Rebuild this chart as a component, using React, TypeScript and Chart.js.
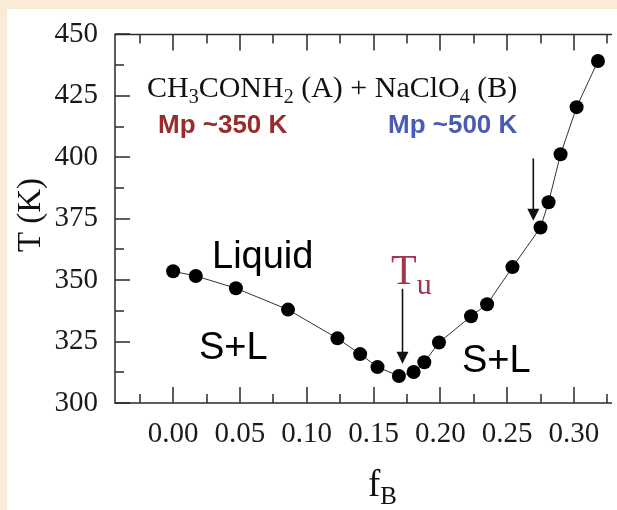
import React, { useEffect, useRef } from "react";
import { Chart, registerables } from "chart.js";

Chart.register(...registerables);

// ---- data ----
const fB = [0.0, 0.017, 0.047, 0.086, 0.123, 0.14, 0.153, 0.169, 0.18, 0.188, 0.199, 0.223, 0.235, 0.254, 0.275, 0.281, 0.29, 0.302, 0.318];
const T = [353.6, 351.7, 346.7, 338.0, 326.3, 319.9, 314.6, 311.0, 312.6, 316.6, 324.6, 335.3, 340.2, 355.3, 371.4, 381.7, 401.2, 420.4, 439.2];
const xTicks = [0, 0.05, 0.1, 0.15, 0.2, 0.25, 0.3];
const xMinorTicks = [-0.025, 0.025, 0.075, 0.125, 0.175, 0.225, 0.275, 0.325];
const yTicks = [300, 325, 350, 375, 400, 425, 450];
const yMinorTicks = [312.5, 337.5, 362.5, 387.5, 412.5, 437.5];
const X_MIN = -0.0435;
const X_MAX = 0.327;
// arrows: [x, fromT, toT]
const arrows = [
  [0.1717, 346.5, 316.0],
  [0.2696, 399.5, 374.2],
];

const SERIF = "'Liberation Serif', 'Times New Roman', serif";
const SANS = "'Liberation Sans', Arial, sans-serif";

type Part = [string, string, number];
function drawRich(ctx: CanvasRenderingContext2D, parts: Part[], x: number, y: number, color: string) {
  let cx = x;
  ctx.fillStyle = color;
  ctx.textBaseline = "alphabetic";
  ctx.textAlign = "left";
  for (const [t, f, dy] of parts) {
    ctx.font = f;
    ctx.fillText(t, cx, y + dy);
    cx += ctx.measureText(t).width;
  }
}

const framePlugin = {
  id: "frame",
  beforeDraw(chart: any) {
    const ctx = chart.ctx as CanvasRenderingContext2D;
    ctx.save();
    ctx.fillStyle = "#f9ebd8";
    ctx.fillRect(0, 0, chart.width, chart.height);
    ctx.fillStyle = "#ffffff";
    ctx.fillRect(7, 9, chart.width - 7, chart.height - 9);
    ctx.restore();
  },
  afterDraw(chart: any) {
    const ctx = chart.ctx as CanvasRenderingContext2D;
    const { left, right, top, bottom } = chart.chartArea;
    const xs = chart.scales.x;
    const ys = chart.scales.y;
    ctx.save();
    ctx.strokeStyle = "#2a2a2a";
    ctx.lineWidth = 1.5;
    ctx.beginPath();
    ctx.moveTo(right + 2, top);
    ctx.lineTo(left, top);
    ctx.lineTo(left, bottom);
    ctx.lineTo(right + 2, bottom);
    ctx.stroke();
    ctx.beginPath();
    for (const v of yTicks) {
      const p = Math.round(ys.getPixelForValue(v));
      ctx.moveTo(left, p);
      ctx.lineTo(left + 15, p);
    }
    for (const v of yMinorTicks) {
      const p = Math.round(ys.getPixelForValue(v));
      ctx.moveTo(left, p);
      ctx.lineTo(left + 9, p);
    }
    for (const v of xTicks) {
      const p = Math.round(xs.getPixelForValue(v));
      ctx.moveTo(p, bottom);
      ctx.lineTo(p, bottom - 16);
      ctx.moveTo(p, top);
      ctx.lineTo(p, top + 16);
    }
    for (const v of xMinorTicks) {
      const p = Math.round(xs.getPixelForValue(v));
      ctx.moveTo(p, bottom);
      ctx.lineTo(p, bottom - 9);
      ctx.moveTo(p, top);
      ctx.lineTo(p, top + 9);
    }
    ctx.stroke();

    // arrows
    ctx.strokeStyle = "#111";
    ctx.fillStyle = "#111";
    ctx.lineWidth = 1.6;
    for (const [ax, t0, t1] of arrows) {
      const px = xs.getPixelForValue(ax);
      const y0 = ys.getPixelForValue(t0);
      const y1 = ys.getPixelForValue(t1);
      ctx.beginPath();
      ctx.moveTo(px, y0);
      ctx.lineTo(px, y1 - 8);
      ctx.stroke();
      ctx.beginPath();
      ctx.moveTo(px - 6, y1 - 12);
      ctx.lineTo(px + 6, y1 - 12);
      ctx.lineTo(px, y1);
      ctx.closePath();
      ctx.fill();
    }

    // annotations
    drawRich(ctx, [
      ["CH", `30px ${SERIF}`, 0],
      ["3", `20px ${SERIF}`, 6],
      ["CONH", `30px ${SERIF}`, 0],
      ["2", `20px ${SERIF}`, 6],
      [" (A) + NaClO", `30px ${SERIF}`, 0],
      ["4", `20px ${SERIF}`, 6],
      [" (B)", `30px ${SERIF}`, 0],
    ], 147, 97, "#111");
    drawRich(ctx, [["Mp ~350 K", `bold 26px ${SANS}`, 0]], 158, 133, "#9a2b2b");
    drawRich(ctx, [["Mp ~500 K", `bold 26px ${SANS}`, 0]], 388, 133, "#4a5bb3");
    drawRich(ctx, [["Liquid", `38px ${SANS}`, 0]], 212, 268, "#000");
    drawRich(ctx, [["S+L", `38px ${SANS}`, 0]], 199, 359, "#000");
    drawRich(ctx, [["S+L", `38px ${SANS}`, 0]], 462, 372, "#000");
    drawRich(ctx, [["T", `42px ${SERIF}`, 0], ["u", `30px ${SERIF}`, 10]], 391, 284, "#a3364c");

    // axis titles
    drawRich(ctx, [["f", `37px ${SERIF}`, 0], ["B", `25px ${SERIF}`, 8]], 368, 496, "#111");
    ctx.save();
    ctx.translate(40, 215);
    ctx.rotate(-Math.PI / 2);
    ctx.font = `33px ${SERIF}`;
    ctx.fillStyle = "#111";
    ctx.textAlign = "center";
    ctx.textBaseline = "alphabetic";
    ctx.fillText("T (K)", 0, 0);
    ctx.restore();
    ctx.restore();
  },
};

export default function App() {
  const ref = useRef<HTMLCanvasElement | null>(null);
  useEffect(() => {
    document.body.style.margin = "0";
    const canvas = ref.current;
    if (!canvas) return;
    const chart = new Chart(canvas, {
      type: "scatter",
      data: {
        datasets: [
          {
            data: fB.map((x, i) => ({ x, y: T[i] })),
            showLine: true,
            borderColor: "#333",
            borderWidth: 1,
            pointRadius: 7,
            pointBackgroundColor: "#000",
            pointBorderWidth: 0,
            clip: false,
          } as any,
        ],
      },
      options: {
        responsive: false,
        animation: false,
        devicePixelRatio: 1,
        layout: { padding: { top: 29, left: 0, right: 0, bottom: 0 } },
        plugins: { legend: { display: false }, tooltip: { enabled: false } },
        scales: {
          x: {
            type: "linear",
            min: X_MIN,
            max: X_MAX,
            grid: { display: false, drawTicks: false },
            border: { display: false },
            afterBuildTicks: (s: any) => {
              s.ticks = xTicks.map((v) => ({ value: v }));
            },
            afterFit: (s: any) => {
              s.height = 107;
            },
            ticks: {
              font: { family: SERIF, size: 29 },
              color: "#1a1a1a",
              padding: 14,
              maxRotation: 0,
              autoSkip: false,
              callback: (v: any) => Number(v).toFixed(2),
            },
          },
          y: {
            type: "linear",
            min: 300,
            max: 450,
            grid: { display: false, drawTicks: false },
            border: { display: false },
            afterBuildTicks: (s: any) => {
              s.ticks = yTicks.map((v) => ({ value: v }));
            },
            afterFit: (s: any) => {
              s.width = 115;
            },
            ticks: {
              font: { family: SERIF, size: 29 },
              color: "#1a1a1a",
              padding: 17,
              autoSkip: false,
              callback: (v: any) => String(v),
            },
          },
        },
      },
      plugins: [framePlugin],
    });
    return () => chart.destroy();
  }, []);
  return <canvas ref={ref} width={617} height={510} style={{ display: "block" }} />;
}
